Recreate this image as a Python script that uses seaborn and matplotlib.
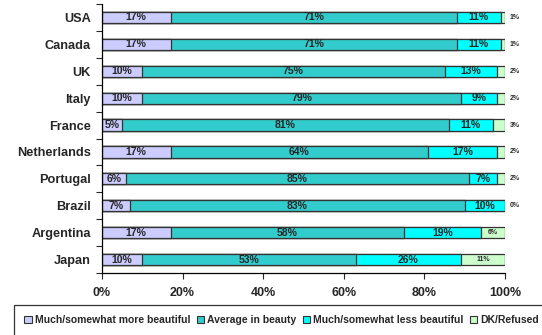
import pandas as pd
import numpy as np
import matplotlib
matplotlib.use('Agg')
import matplotlib.pyplot as plt
import seaborn as sns
from matplotlib.patches import Patch

# data
countries = ['USA', 'Canada', 'UK', 'Italy', 'France', 'Netherlands',
             'Portugal', 'Brazil', 'Argentina', 'Japan']
more_beautiful = [17, 17, 10, 10, 5, 17, 6, 7, 17, 10]
average_beauty = [71, 71, 75, 79, 81, 64, 85, 83, 58, 53]
less_beautiful = [11, 11, 13, 9, 11, 17, 7, 10, 19, 26]
dk_refused = [1, 1, 2, 2, 3, 2, 2, 0, 6, 11]

series_names = ['Much/somewhat more beautiful', 'Average in beauty',
                'Much/somewhat less beautiful', 'DK/Refused']
colors = ['#CCCCFF', '#33CCCC', '#00FFFF', '#CCFFCC']

sns.set_style('white')
plt.rcParams['font.family'] = ['Liberation Sans', 'DejaVu Sans']
plt.rcParams['font.weight'] = 'bold'

df = pd.DataFrame({
    'country': countries,
    series_names[0]: more_beautiful,
    series_names[1]: average_beauty,
    series_names[2]: less_beautiful,
    series_names[3]: dk_refused,
})
cum = df[series_names].cumsum(axis=1)

fig = plt.figure(figsize=(5.42, 3.35), dpi=100)
ax = fig.add_axes([102 / 542, 1 - 273 / 335, 403 / 542, 269 / 335])

# stacked bars: draw cumulative totals from the back to the front
for name, col in reversed(list(zip(series_names, colors))):
    sns.barplot(x=cum[name], y=df['country'], orient='h', color=col,
                width=0.42, edgecolor='#333333', linewidth=0.9,
                saturation=1, ax=ax)

# percentage labels
for i in range(len(countries)):
    left = 0
    for j, name in enumerate(series_names):
        v = df[name].iloc[i]
        if j < 3:
            ax.text(left + v / 2, i, f'{v}%', ha='center', va='center',
                    fontsize=7.5, fontweight='bold')
        elif v >= 5:
            ax.text(left + v / 2, i, f'{v}%', ha='center', va='center',
                    fontsize=5, fontweight='bold')
        else:
            ax.text(101.2, i, f'{v}%', ha='left', va='center',
                    fontsize=5, fontweight='bold')
        left += v

ax.set_xlim(0, 100)
ax.set_ylim(9.5, -0.5)
ax.set_xticks([0, 20, 40, 60, 80, 100])
ax.set_xticklabels([f'{t}%' for t in [0, 20, 40, 60, 80, 100]],
                   fontsize=9, fontweight='bold')
ax.set_yticklabels(countries, fontsize=9.2, fontweight='bold')
ax.set_yticks(np.arange(-0.5, 10, 1), minor=True)
ax.tick_params(axis='y', which='major', length=0, pad=8)
ax.tick_params(axis='y', which='minor', length=4, width=0.8,
               direction='out', left=True)
ax.tick_params(axis='x', which='major', length=4, width=0.8,
               direction='out', bottom=True, pad=6)
ax.set_xlabel('')
ax.set_ylabel('')
sns.despine(ax=ax, top=True, right=True)
for s in ['left', 'bottom']:
    ax.spines[s].set_color('black')
    ax.spines[s].set_linewidth(0.9)

handles = [Patch(facecolor=c, edgecolor='#333333', linewidth=0.8, label=n)
           for n, c in zip(series_names, colors)]
leg = fig.legend(handles=handles, loc='upper left',
                 bbox_to_anchor=(14 / 542, 1 - 305 / 335), ncol=4,
                 fontsize=7.5, frameon=True, fancybox=False,
                 handlelength=0.7, handleheight=0.7, handletextpad=0.3,
                 columnspacing=0.6, borderpad=1.0, borderaxespad=0)
leg.get_frame().set_edgecolor('black')
leg.get_frame().set_linewidth(0.9)
for t in leg.get_texts():
    t.set_fontweight('bold')

plt.savefig('out.png', dpi=100, facecolor='white')
plt.close()
